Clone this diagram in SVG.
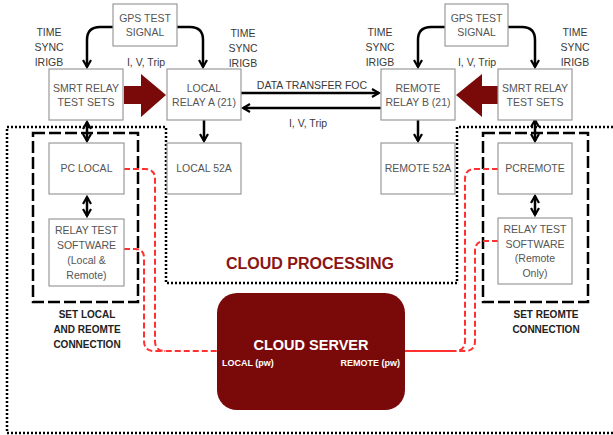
<svg xmlns="http://www.w3.org/2000/svg" width="613" height="435" viewBox="0 0 613 435">
<defs>
<style>
.box{fill:#fff;stroke:#9a9a9a;stroke-width:1.2}
.bt{font-family:"Liberation Sans",Arial,sans-serif;font-size:10.5px;fill:#555;text-anchor:middle}
.lt{font-family:"Liberation Sans",Arial,sans-serif;font-size:10.5px;fill:#3a3a3a;text-anchor:middle}
.st{font-family:"Liberation Sans",Arial,sans-serif;font-size:10px;font-weight:bold;fill:#222;text-anchor:middle}
.blk{fill:none;stroke:#000;stroke-width:2.5}
.dot{fill:none;stroke:#000;stroke-width:2.5;stroke-dasharray:2 2}
.dash{fill:none;stroke:#000;stroke-width:2.5;stroke-dasharray:12 4}
.red{fill:none;stroke:#ff3030;stroke-width:2;stroke-dasharray:6 3}
.big{fill:#7a0a0a}
</style>
<marker id="ao" viewBox="0 0 10 10" refX="8" refY="5" markerWidth="4" markerHeight="4" markerUnits="strokeWidth" orient="auto-start-reverse">
<path d="M1,1 L8,5 L1,9" fill="none" stroke="#000" stroke-width="2.2"/>
</marker>
</defs>
<rect width="613" height="435" fill="#fff"/>

<g id="regions">
<path class="dot" d="M613,127 H457 V283 H166 V127 H7 V433 H613"/>
<rect class="dash" x="33" y="133" width="105" height="169"/>
<rect class="dash" x="483" y="133" width="105" height="169"/>
</g>

<g id="connectors">
<path class="blk" d="M113,27 H100 Q87,27 87,40 V67" marker-end="url(#ao)"/>
<path class="blk" d="M177,27 H190 Q203,27 203,40 V67" marker-end="url(#ao)"/>
<path class="blk" d="M445,27 H431 Q418,27 418,40 V67" marker-end="url(#ao)"/>
<path class="blk" d="M508,27 H522 Q535,27 535,40 V67" marker-end="url(#ao)"/>
<path class="blk" d="M241,93 H379" marker-end="url(#ao)"/>
<path class="blk" d="M381,108 H243" marker-end="url(#ao)"/>
<path class="blk" d="M204,120 V141" marker-end="url(#ao)"/>
<path class="blk" d="M418,120 V141" marker-end="url(#ao)"/>
<path class="blk" d="M87,122 V141" marker-start="url(#ao)" marker-end="url(#ao)"/>
<path class="blk" d="M87,197 V216" marker-start="url(#ao)" marker-end="url(#ao)"/>
<path class="blk" d="M535,120 V141" marker-start="url(#ao)" marker-end="url(#ao)"/>
<path class="blk" d="M535,196 V215" marker-start="url(#ao)" marker-end="url(#ao)"/>
<path class="big" d="M124,86 H141 V74 L166,95 L141,117 V104 H124 Z"/>
<path class="big" d="M498,86 H482 V74 L456,95 L482,117 V104 H498 Z"/>
<path class="red" d="M124,169 H145 Q155,169 155,179 V341 Q155,351 165,351 H217"/>
<path class="red" d="M124,249 H135 Q144,249 144,258 V341 Q144,351 154,351 H165"/>
<path class="red" d="M498,169 H475 Q465,169 465,179 V341 Q465,351 455,351"/>
<path class="red" d="M498,241 H485 Q475,241 475,251 V341 Q475,351 465,351 H456"/>
<path d="M455,351 H405" fill="none" stroke="#ff3030" stroke-width="1.8"/>
</g>

<g id="gps-left">
<rect class="box" x="113" y="4" width="64" height="42"/>
<text class="bt" x="145" y="22">GPS TEST</text>
<text class="bt" x="145" y="36">SIGNAL</text>
</g>
<g id="gps-right">
<rect class="box" x="445" y="4" width="63" height="42"/>
<text class="bt" x="476.5" y="22">GPS TEST</text>
<text class="bt" x="476.5" y="36">SIGNAL</text>
</g>

<g id="labels">
<text class="lt" x="49" y="36">TIME</text><text class="lt" x="49" y="51">SYNC</text><text class="lt" x="49" y="66">IRIGB</text>
<text class="lt" x="243" y="37">TIME</text><text class="lt" x="243" y="52">SYNC</text><text class="lt" x="243" y="67">IRIGB</text>
<text class="lt" x="380" y="36">TIME</text><text class="lt" x="380" y="51">SYNC</text><text class="lt" x="380" y="66">IRIGB</text>
<text class="lt" x="575" y="36">TIME</text><text class="lt" x="575" y="51">SYNC</text><text class="lt" x="575" y="66">IRIGB</text>
<text class="lt" x="146" y="66">I, V, Trip</text>
<text class="lt" x="477" y="66">I, V, Trip</text>
<text class="lt" x="312" y="89">DATA TRANSFER FOC</text>
<text class="lt" x="308" y="127">I, V, Trip</text>
<text x="310" y="269" font-family="'Liberation Sans',Arial,sans-serif" font-size="16" font-weight="bold" fill="#8a1515" text-anchor="middle">CLOUD PROCESSING</text>
<text class="st" x="87" y="318">SET  LOCAL</text>
<text class="st" x="87" y="333">AND REOMTE</text>
<text class="st" x="87" y="348">CONNECTION</text>
<text class="st" x="546" y="318">SET  REOMTE</text>
<text class="st" x="546" y="333">CONNECTION</text>
</g>

<g id="smrt-left">
<rect class="box" x="49" y="69" width="74" height="51"/>
<text class="bt" x="86" y="92">SMRT RELAY</text>
<text class="bt" x="86" y="106">TEST SETS</text>
</g>
<g id="relay-a">
<rect class="box" x="167" y="69" width="74" height="51"/>
<text class="bt" x="204" y="92">LOCAL</text>
<text class="bt" x="204" y="106">RELAY A (21)</text>
</g>
<g id="relay-b">
<rect class="box" x="381" y="69" width="74" height="51"/>
<text class="bt" x="418" y="92">REMOTE</text>
<text class="bt" x="418" y="106">RELAY B (21)</text>
</g>
<g id="smrt-right">
<rect class="box" x="498" y="69" width="74" height="51"/>
<text class="bt" x="535" y="92">SMRT RELAY</text>
<text class="bt" x="535" y="106">TEST SETS</text>
</g>
<g id="pc-local">
<rect class="box" x="49" y="143" width="75" height="51"/>
<text class="bt" x="86.5" y="172">PC LOCAL</text>
</g>
<g id="local-52a">
<rect class="box" x="167" y="143" width="74" height="51"/>
<text class="bt" x="204" y="172">LOCAL 52A</text>
</g>
<g id="remote-52a">
<rect class="box" x="381" y="143" width="74" height="51"/>
<text class="bt" x="418" y="172">REMOTE 52A</text>
</g>
<g id="pc-remote">
<rect class="box" x="498" y="143" width="74" height="51"/>
<text class="bt" x="535" y="172">PCREMOTE</text>
</g>
<g id="rts-local">
<rect class="box" x="49" y="219" width="75" height="67"/>
<text class="bt" x="86.5" y="234">RELAY TEST</text>
<text class="bt" x="86.5" y="249">SOFTWARE</text>
<text class="bt" x="86.5" y="264">(Local &amp;</text>
<text class="bt" x="86.5" y="279">Remote)</text>
</g>
<g id="rts-remote">
<rect class="box" x="498" y="218" width="74" height="66"/>
<text class="bt" x="535" y="233">RELAY TEST</text>
<text class="bt" x="535" y="248">SOFTWARE</text>
<text class="bt" x="535" y="262">(Remote</text>
<text class="bt" x="535" y="277">Only)</text>
</g>
<g id="cloud-server">
<rect x="217" y="293" width="188" height="117" rx="20" fill="#7a0a0a"/>
<text x="311" y="350" font-family="'Liberation Sans',Arial,sans-serif" font-size="14.5" font-weight="bold" fill="#fff" text-anchor="middle">CLOUD SERVER</text>
<text x="222" y="366" font-family="'Liberation Sans',Arial,sans-serif" font-size="9" font-weight="bold" fill="#fff">LOCAL (pw)</text>
<text x="400" y="366" font-family="'Liberation Sans',Arial,sans-serif" font-size="9" font-weight="bold" fill="#fff" text-anchor="end">REMOTE (pw)</text>
</g>
</svg>
